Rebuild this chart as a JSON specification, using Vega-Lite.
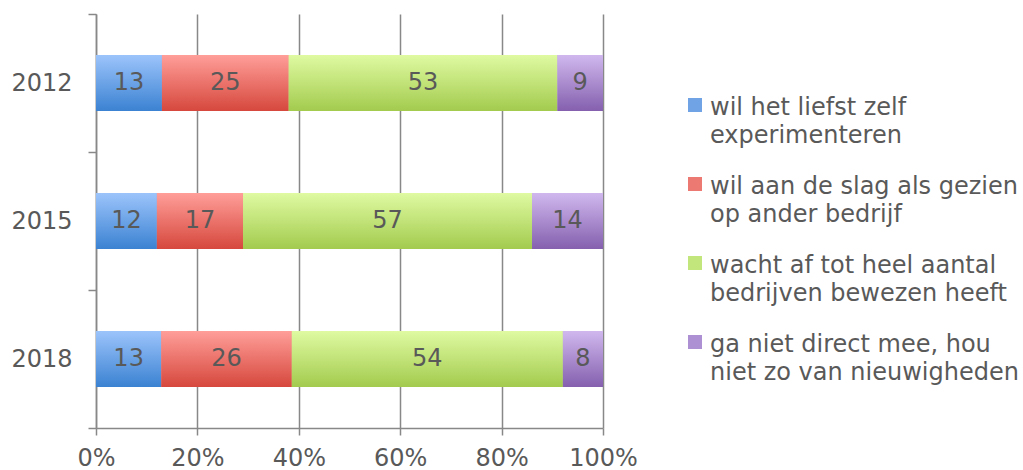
{
  "$schema": "https://vega.github.io/schema/vega-lite/v6.json",
  "width": 507,
  "height": 414,
  "autosize": {"type": "none"},
  "padding": {"left": 96, "top": 14, "right": 420, "bottom": 42},
  "background": "white",
  "config": {
    "view": {"stroke": null},
    "font": "DejaVu Sans",
    "style": {"guide-label": {"lineHeight": 28}},
    "axis": {"labelFont": "DejaVu Sans", "labelColor": "#595959", "labelFontSize": 24, "domainColor": "#888888", "tickColor": "#888888", "domainWidth": 1.5, "tickWidth": 1.5}
  },
  "data": {
    "values": [
      {"year": "2012", "k": 1, "cat": "wil het liefst zelf\nexperimenteren", "value": 13},
      {"year": "2012", "k": 2, "cat": "wil aan de slag als gezien\nop ander bedrijf", "value": 25},
      {"year": "2012", "k": 3, "cat": "wacht af tot heel aantal\nbedrijven bewezen heeft", "value": 53},
      {"year": "2012", "k": 4, "cat": "ga niet direct mee, hou\nniet zo van nieuwigheden", "value": 9},
      {"year": "2015", "k": 1, "cat": "wil het liefst zelf\nexperimenteren", "value": 12},
      {"year": "2015", "k": 2, "cat": "wil aan de slag als gezien\nop ander bedrijf", "value": 17},
      {"year": "2015", "k": 3, "cat": "wacht af tot heel aantal\nbedrijven bewezen heeft", "value": 57},
      {"year": "2015", "k": 4, "cat": "ga niet direct mee, hou\nniet zo van nieuwigheden", "value": 14},
      {"year": "2018", "k": 1, "cat": "wil het liefst zelf\nexperimenteren", "value": 13},
      {"year": "2018", "k": 2, "cat": "wil aan de slag als gezien\nop ander bedrijf", "value": 26},
      {"year": "2018", "k": 3, "cat": "wacht af tot heel aantal\nbedrijven bewezen heeft", "value": 54},
      {"year": "2018", "k": 4, "cat": "ga niet direct mee, hou\nniet zo van nieuwigheden", "value": 8}
    ]
  },
  "transform": [
    {"stack": "value", "groupby": ["year"], "sort": [{"field": "k"}], "offset": "normalize", "as": ["s0", "s1"]},
    {"calculate": "(datum.s0 + datum.s1) / 2", "as": "mid"}
  ],
  "encoding": {
    "y": {
      "field": "year", "type": "nominal", "sort": ["2012", "2015", "2018"],
      "scale": {"paddingInner": 0, "paddingOuter": 0},
      "axis": {"title": null, "tickBand": "extent", "tickSize": 8, "labelPadding": 16, "domain": true}
    }
  },
  "layer": [
    {
      "mark": {"type": "bar", "height": {"band": 0.405}},
      "encoding": {
        "x": {"field": "s0", "type": "quantitative", "scale": {"domain": [0, 1]},
          "axis": {"title": null, "format": "%", "values": [0, 0.2, 0.4, 0.6, 0.8, 1], "grid": true, "gridColor": "#888888", "gridWidth": 1.5, "tickSize": 7, "labelPadding": 11, "labelFlush": false}},
        "x2": {"field": "s1"},
        "color": {
          "field": "cat", "type": "nominal",
          "sort": ["wil het liefst zelf\nexperimenteren", "wil aan de slag als gezien\nop ander bedrijf", "wacht af tot heel aantal\nbedrijven bewezen heeft", "ga niet direct mee, hou\nniet zo van nieuwigheden"],
          "scale": {"range": ["#6fa3e6", "#ec7a72", "#c3e67c", "#ad90d3"]},
          "legend": {
            "title": null, "orient": "none", "legendX": 587, "legendY": 79,
            "symbolType": "square", "symbolSize": 196, "symbolStrokeWidth": 0,
            "labelFont": "DejaVu Sans", "labelFontSize": 24, "labelColor": "#595959",
            "labelExpr": "split(datum.label, '\\n')", "labelLimit": 400, "labelBaseline": "top", "labelOffset": 3,
            "rowPadding": 24,
            "encode": {"labels": {"update": {"dy": {"value": -9}}}}
          }
        }
      }
    },
    {"transform": [{"filter": "datum.k == 1"}],
      "mark": {"type": "bar", "height": {"band": 0.405}, "fill": {"gradient": "linear", "x1": 0, "y1": 0, "x2": 0, "y2": 1, "stops": [{"offset": 0, "color": "#9cc4fb"}, {"offset": 1, "color": "#3b82d2"}]}},
      "encoding": {"x": {"field": "s0", "type": "quantitative"}, "x2": {"field": "s1"}}},
    {"transform": [{"filter": "datum.k == 2"}],
      "mark": {"type": "bar", "height": {"band": 0.405}, "fill": {"gradient": "linear", "x1": 0, "y1": 0, "x2": 0, "y2": 1, "stops": [{"offset": 0, "color": "#ff9e99"}, {"offset": 1, "color": "#d6483d"}]}},
      "encoding": {"x": {"field": "s0", "type": "quantitative"}, "x2": {"field": "s1"}}},
    {"transform": [{"filter": "datum.k == 3"}],
      "mark": {"type": "bar", "height": {"band": 0.405}, "fill": {"gradient": "linear", "x1": 0, "y1": 0, "x2": 0, "y2": 1, "stops": [{"offset": 0, "color": "#dffaa2"}, {"offset": 1, "color": "#a3cb4e"}]}},
      "encoding": {"x": {"field": "s0", "type": "quantitative"}, "x2": {"field": "s1"}}},
    {"transform": [{"filter": "datum.k == 4"}],
      "mark": {"type": "bar", "height": {"band": 0.405}, "fill": {"gradient": "linear", "x1": 0, "y1": 0, "x2": 0, "y2": 1, "stops": [{"offset": 0, "color": "#d0b8ee"}, {"offset": 1, "color": "#8560ae"}]}},
      "encoding": {"x": {"field": "s0", "type": "quantitative"}, "x2": {"field": "s1"}}},
    {
      "mark": {"type": "text", "font": "DejaVu Sans", "fontSize": 24, "color": "#595959", "align": "center", "baseline": "middle"},
      "encoding": {
        "x": {"field": "mid", "type": "quantitative"},
        "text": {"field": "value", "type": "quantitative"}
      }
    }
  ]
}
